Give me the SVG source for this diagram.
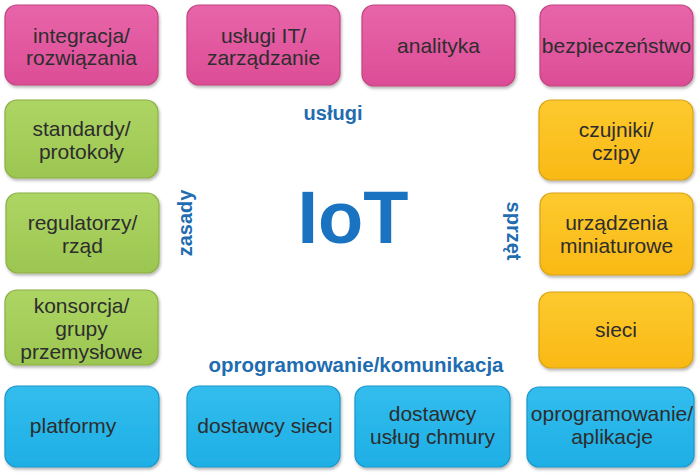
<svg xmlns="http://www.w3.org/2000/svg" width="700" height="476" viewBox="0 0 700 476">
<defs>
<linearGradient id="gPink" x1="0" y1="0" x2="0" y2="1"><stop offset="0" stop-color="#e865aa"/><stop offset="1" stop-color="#dc4d96"/></linearGradient>
<linearGradient id="gGreen" x1="0" y1="0" x2="0" y2="1"><stop offset="0" stop-color="#add564"/><stop offset="1" stop-color="#9cc651"/></linearGradient>
<linearGradient id="gOrange" x1="0" y1="0" x2="0" y2="1"><stop offset="0" stop-color="#fdca2e"/><stop offset="1" stop-color="#f9b915"/></linearGradient>
<linearGradient id="gBlue" x1="0" y1="0" x2="0" y2="1"><stop offset="0" stop-color="#33bdee"/><stop offset="1" stop-color="#1eafe5"/></linearGradient>
<filter id="sh" x="-10%" y="-10%" width="125%" height="130%"><feDropShadow dx="1" dy="2" stdDeviation="1.5" flood-color="#000" flood-opacity="0.3"/></filter>
</defs>
<style>
.box{filter:url(#sh);stroke-width:1.2}
.pink{fill:url(#gPink);stroke:#c2447f}
.green{fill:url(#gGreen);stroke:#8bb043}
.orange{fill:url(#gOrange);stroke:#d9a214}
.blue{fill:url(#gBlue);stroke:#1a97c9}
.t{font-family:"Liberation Sans",Arial,sans-serif;font-size:21px;fill:#2d2d2d;text-anchor:middle}
.lbl{font-family:"Liberation Sans",Arial,sans-serif;font-size:20px;font-weight:bold;fill:#1f6cb0;text-anchor:middle}
.iot{font-family:"Liberation Sans",Arial,sans-serif;font-size:74px;font-weight:bold;fill:#1a73c0;text-anchor:middle}
</style>
<rect width="700" height="476" fill="#ffffff"/>
<g id="connectors"></g>
<g id="n-integracja"><rect class="box pink" x="5" y="5" width="153" height="80" rx="12"/><text class="t" x="81.5" y="43">integracja/<tspan x="81.5" dy="22">rozwiązania</tspan></text></g>
<g id="n-uslugi-it"><rect class="box pink" x="187" y="5" width="153" height="80" rx="12"/><text class="t" x="263.5" y="43">usługi IT/<tspan x="263.5" dy="22">zarządzanie</tspan></text></g>
<g id="n-analityka"><rect class="box pink" x="362" y="5" width="153" height="81" rx="12"/><text class="t" x="438.5" y="53">analityka</text></g>
<g id="n-bezpieczenstwo"><rect class="box pink" x="540" y="5" width="153" height="81" rx="12"/><text class="t" x="616.5" y="53">bezpieczeństwo</text></g>
<g id="n-standardy"><rect class="box green" x="5" y="100" width="153" height="78" rx="12"/><text class="t" x="81.5" y="136">standardy/<tspan x="81.5" dy="23">protokoły</tspan></text></g>
<g id="n-regulatorzy"><rect class="box green" x="6" y="193" width="153" height="80" rx="12"/><text class="t" x="82.5" y="230">regulatorzy/<tspan x="82.5" dy="23">rząd</tspan></text></g>
<g id="n-konsorcja"><rect class="box green" x="5" y="290" width="153" height="75" rx="12"/><text class="t" x="81.5" y="313">konsorcja/<tspan x="81.5" dy="23">grupy</tspan><tspan x="81.5" dy="23">przemysłowe</tspan></text></g>
<g id="n-czujniki"><rect class="box orange" x="539" y="100" width="154" height="80" rx="12"/><text class="t" x="616" y="137">czujniki/<tspan x="616" dy="23">czipy</tspan></text></g>
<g id="n-urzadzenia"><rect class="box orange" x="540" y="193" width="153" height="82" rx="12"/><text class="t" x="616.5" y="230">urządzenia<tspan x="616.5" dy="23">miniaturowe</tspan></text></g>
<g id="n-sieci"><rect class="box orange" x="539" y="292" width="154" height="76" rx="12"/><text class="t" x="616" y="337">sieci</text></g>
<g id="n-platformy"><rect class="box blue" x="5" y="386" width="154" height="81" rx="12"/><text class="t" x="73" y="433">platformy</text></g>
<g id="n-dostawcy-sieci"><rect class="box blue" x="187" y="386" width="153" height="81" rx="12"/><text class="t" x="265" y="433">dostawcy sieci</text></g>
<g id="n-chmury"><rect class="box blue" x="355" y="386" width="155" height="81" rx="12"/><text class="t" x="432.5" y="421">dostawcy<tspan x="432.5" dy="23">usług chmury</tspan></text></g>
<g id="n-aplikacje"><rect class="box blue" x="527" y="387" width="167" height="80" rx="12"/><text class="t" x="612" y="421">oprogramowanie/<tspan x="612" dy="23">aplikacje</tspan></text></g>
<g id="labels">
<text class="iot" x="353" y="243">IoT</text>
<text class="lbl" x="333" y="120">usługi</text>
<text class="lbl" x="356" y="372" style="font-size:20.5px">oprogramowanie/komunikacja</text>
<text class="lbl" transform="translate(192,223) rotate(-90)">zasady</text>
<text class="lbl" transform="translate(507,231) rotate(90)">sprzęt</text>
</g>
</svg>
